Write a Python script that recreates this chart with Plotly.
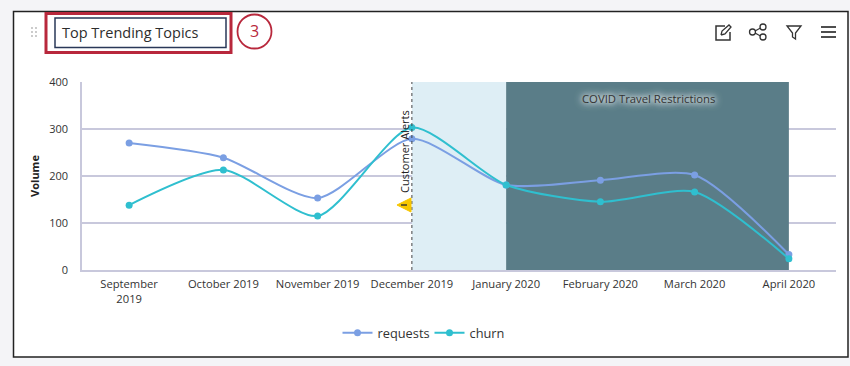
import plotly.graph_objects as go

months = ["September<br>2019", "October 2019", "November 2019", "December 2019",
          "January 2020", "February 2020", "March 2020", "April 2020"]
requests = [270, 239, 153, 279, 181, 191, 202, 33]
churn = [138, 213, 115, 303, 181, 145, 166, 24]
y_ticks = [0, 100, 200, 300, 400]
title_text = "Top Trending Topics"
alert_label = "Customer Alerts"
band_label = "COVID Travel Restrictions"
y_top = 400
alert_start, covid_start, covid_end = 3, 4, 7

W, H = 850, 366
L, R, T, B = 82, 836, 82, 270
FONT = "Open Sans"


def px(x):
    return (x - L) / (R - L)


def py(y):
    return (B - y) / (B - T)


def rect(x0, y0, x1, y1, **kw):
    return dict(type="rect", xref="paper", yref="paper", x0=px(x0), x1=px(x1),
                y0=py(y0), y1=py(y1), **kw)


def path(points, close=False, color="#333", width=1.4, fill=None):
    d = "M" + " L".join(f"{px(a):.5f},{py(b):.5f}" for a, b in points)
    if close:
        d += " Z"
    s = dict(type="path", xref="paper", yref="paper", path=d,
             line=dict(color=color, width=width))
    if fill:
        s["fillcolor"] = fill
    return s


def circle(cx, cy, r, color="#333", width=1.3, fill=None):
    s = dict(type="circle", xref="paper", yref="paper", x0=px(cx - r), x1=px(cx + r),
             y0=py(cy + r), y1=py(cy - r), line=dict(color=color, width=width))
    if fill:
        s["fillcolor"] = fill
    return s


shapes = [
    # card
    rect(13.5, 11.5, 848, 357, line=dict(color="#222", width=1.5), fillcolor="white", layer="below"),
    # title box
    rect(46, 13.5, 231, 52.5, line=dict(color="#b8283c", width=3)),
    rect(55, 18, 226, 47.5, line=dict(color="#2a3858", width=1.5)),
    circle(254.5, 31.5, 17, color="#b8283c", width=1.8),
    # alert line
    dict(type="line", xref="x", yref="paper", x0=alert_start, x1=alert_start, y0=0, y1=1,
         line=dict(color="#444", width=1, dash="dot"), layer="above"),
    # warning triangle
    path([(411, 198), (411, 212), (397, 205)], close=True, color="#f7c600", width=1, fill="#f7c600"),
    path([(401, 205), (407, 205)], color="#333", width=1.4),
    # edit icon
    path([(725, 26), (716, 26), (716, 40), (730, 40), (730, 32)], width=1.5),
    path([(721, 35), (722, 31), (729, 25), (731, 27), (725, 34), (721, 35)], width=1.3),
    # share icon
    circle(752.5, 32, 3), circle(763, 27, 3), circle(763, 37, 3),
    path([(755, 31), (760.5, 28)], width=1.2),
    path([(755, 33), (760.5, 36)], width=1.2),
    # filter
    path([(787, 26), (801, 26), (795.5, 33), (795.5, 39), (792.5, 37), (792.5, 33)], close=True, width=1.3),
]
# hamburger
for yy in (27, 32, 37):
    shapes.append(path([(821, yy), (836, yy)], color="#222", width=1.6))
# drag handle
for xx in (32, 36):
    for yy in (28, 32, 36):
        shapes.append(rect(xx - 0.8, yy - 0.8, xx + 0.8, yy + 0.8, fillcolor="#a9a9a9", line=dict(width=0)))

annotations = [
    dict(xref="paper", yref="paper", x=px(60), y=py(32), text=title_text, showarrow=False,
         xanchor="left", yanchor="middle", font=dict(family=FONT, size=14.5, color="#2d2d2d")),
    dict(xref="paper", yref="paper", x=px(254), y=py(31), text="3", showarrow=False,
         xanchor="center", yanchor="middle", font=dict(family=FONT, size=16, color="#b8283c")),
    dict(xref="paper", yref="paper", x=px(404), y=py(152), text=alert_label, showarrow=False, textangle=-90,
         xanchor="center", yanchor="middle", font=dict(family=FONT, size=11, color="#222")),
    dict(xref="paper", yref="paper", x=px(648), y=py(98), text=band_label, showarrow=False,
         xanchor="center", yanchor="middle",
         font=dict(family=FONT, size=11.3, color="#333",
                   shadow="0 0 5px #ffffff, 0 0 8px #ffffff, 0 0 10px #dfe8ea")),
]

fig = go.Figure()
# Shaded periods as bars: traces always sit above the gridlines.
fig.add_trace(go.Bar(x=[(alert_start + covid_start) / 2], y=[y_top], width=[covid_start - alert_start],
                     marker=dict(color="#deeef5", line=dict(width=0)), showlegend=False, hoverinfo="skip"))
fig.add_trace(go.Bar(x=[(covid_start + covid_end) / 2], y=[y_top], width=[covid_end - covid_start],
                     marker=dict(color="#5a7d88", line=dict(width=0)), showlegend=False, hoverinfo="skip"))
fig.add_trace(go.Scatter(x=list(range(len(months))), y=requests, name="requests", mode="lines+markers",
                         line=dict(color="#7b9fe3", width=2, shape="spline", smoothing=0.7),
                         marker=dict(size=7, color="#7b9fe3")))
fig.add_trace(go.Scatter(x=list(range(len(months))), y=churn, name="churn", mode="lines+markers",
                         line=dict(color="#2fbfcf", width=2, shape="spline", smoothing=0.7),
                         marker=dict(size=7, color="#2fbfcf")))

fig.update_layout(
    width=W, height=H, autosize=False, barmode="overlay",
    paper_bgcolor="#f4f4f7", plot_bgcolor="white",
    margin=dict(l=L, r=W - R, t=T, b=H - B),
    font=dict(family=FONT, size=12, color="#333"),
    shapes=shapes, annotations=annotations,
    xaxis=dict(range=[-0.5, 7.5], tickmode="array", tickvals=list(range(len(months))), ticktext=months,
               showgrid=False, zeroline=False, showline=True, linecolor="#c8c8dc", linewidth=1.5, ticks="",
               tickfont=dict(size=11.2, color="#333"), tickangle=0, ticklabelstandoff=3),
    yaxis=dict(range=[0, y_top], tickmode="array", tickvals=y_ticks, showgrid=True, gridcolor="#c8c8dc", gridwidth=1.5,
               zeroline=False, showline=True, linecolor="#c8c8dc", linewidth=1.5, ticks="",
               tickfont=dict(size=11, color="#333"), ticklabelstandoff=10,
               title=dict(text="<b>Volume</b>", font=dict(size=11, color="#222"), standoff=7)),
    legend=dict(orientation="h", x=px(429.5), xanchor="center", y=py(333), yanchor="middle",
                bgcolor="rgba(0,0,0,0)", font=dict(size=12.8, color="#333"), itemwidth=30,
                entrywidth=47, entrywidthmode="pixels"),
)
fig.write_html("out.html", config={"displayModeBar": False},
               post_script="document.body.style.margin='0';document.body.style.overflow='hidden';")
